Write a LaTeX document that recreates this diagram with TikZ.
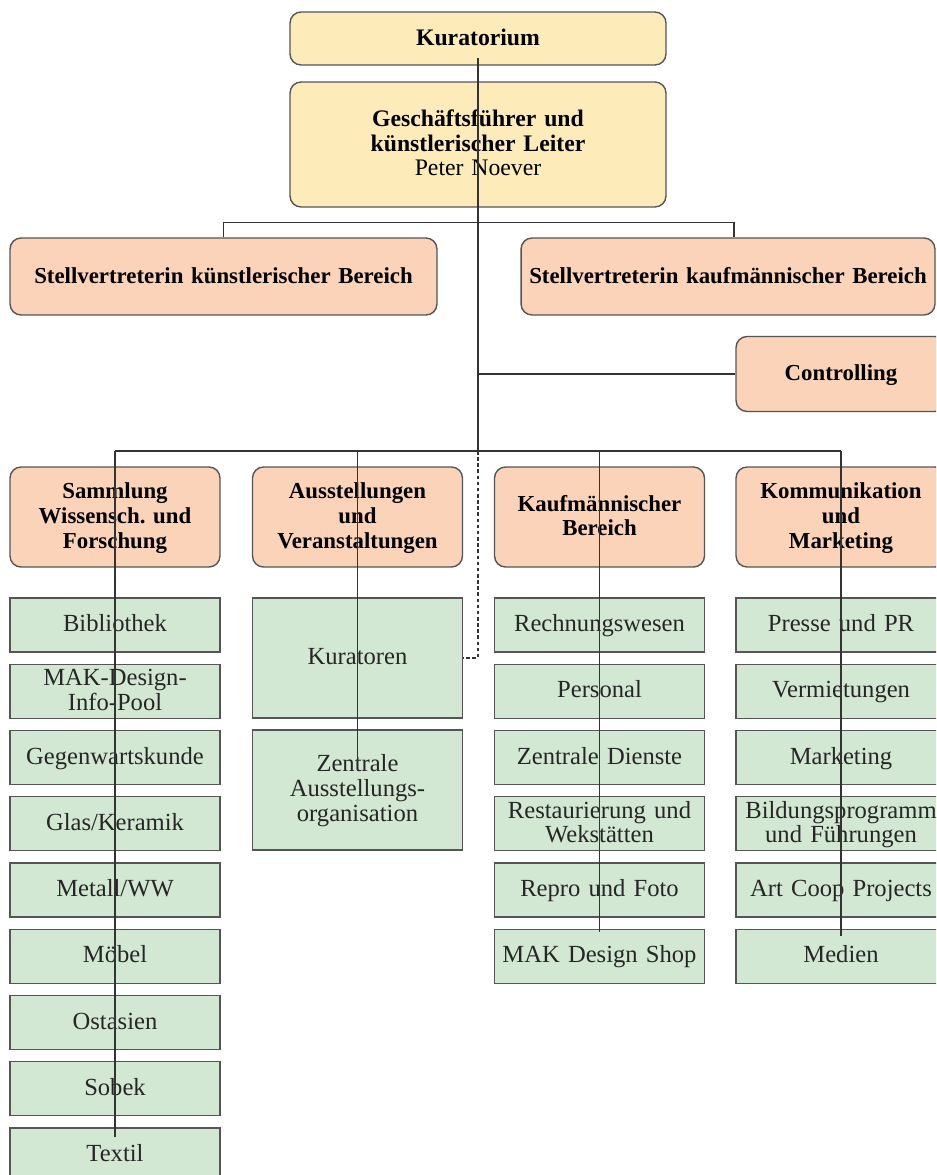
\documentclass[tikz,border=0pt]{standalone}
\usepackage{fontspec}
\setmainfont{Liberation Serif}
\usepackage{tikz}
\usepackage[dvipsnames]{xcolor}
\frenchspacing

\definecolor{boardfill}{HTML}{FDEBB9}
\definecolor{leadfill}{HTML}{FAD3B9}
\definecolor{unitfill}{HTML}{D2E8D3}
\definecolor{edge}{HTML}{555555}
\newcommand\boxstrut{\rule[-3pt]{0pt}{13.5pt}}

\begin{document}
\begin{tikzpicture}[x=0.02cm,y=-0.02cm,
    box/.style={draw=edge,line width=0.8pt,align=center,inner xsep=0pt,inner ysep=0pt,
      execute at begin node=\boxstrut,execute at end node=\boxstrut},
    board/.style={box,rounded corners=0.22cm,fill=boardfill,text width=7.52cm,
      font=\fontsize{13.5}{14}\selectfont},
    lead/.style={box,rounded corners=0.22cm,fill=leadfill,text width=4.2cm,minimum height=2cm,
      font=\bfseries\fontsize{13}{14}\selectfont},
    unit/.style={box,fill=unitfill,text width=4.2cm,minimum height=1.08cm,text=black!85,
      font=\fontsize{14}{14}\selectfont},
    link/.style={draw=black!80,line width=0.6pt}]
    \clip (0,0) rectangle (936,1175);
    \fill[white] (0,0) rectangle (936,1175);

    % top of the house
    \node[board,minimum height=1.06cm] (kur) at (478,38.5) {\textbf{Kuratorium}};
    \node[board,minimum height=2.5cm] (gf) at (478,144.5)
      {\textbf{Geschäftsführer und}\\\textbf{künstlerischer Leiter}\\Peter Noever};
    \node[lead,text width=8.54cm,minimum height=1.54cm] (skb) at (223.5,276.5)
      {Stellvertreterin künstlerischer Bereich};
    \node[lead,text width=8.28cm,minimum height=1.54cm] (skf) at (728,276.5)
      {Stellvertreterin kaufmännischer Bereich};
    \node[lead,minimum height=1.5cm] (ctrl) at (841,374) {Controlling};

    % departments
    \node[lead] (sam) at (115,517) {Sammlung\\Wissensch. und\\Forschung};
    \node[lead] (aus) at (357.5,517) {Ausstellungen\\und\\Veranstaltungen};
    \node[lead] (kfm) at (599.5,517) {Kaufmännischer\\Bereich};
    \node[lead] (kom) at (841,517) {Kommunikation\\und\\Marketing};

    % units
    \foreach \t [count=\i from 0] in {Bibliothek,{MAK-Design-\\Info-Pool},Gegenwartskunde,
        Glas/Keramik,Metall/WW,Möbel,Ostasien,Sobek,Textil}
      \node[unit] (s\i) at (115,{625+66.25*\i}) {\t};
    \node[unit,minimum height=2.4cm] (kurat) at (357.5,658) {Kuratoren};
    \node[unit,minimum height=2.4cm] (zent) at (357.5,790)
      {Zentrale\\Ausstellungs-\\organisation};
    \foreach \t [count=\i from 0] in {Rechnungswesen,Personal,Zentrale Dienste,
        {Restaurierung und\\Wekstätten},Repro und Foto,MAK Design Shop}
      \node[unit] (r\i) at (599.5,{625+66.25*\i}) {\t};
    \foreach \t [count=\i from 0] in {Presse und PR,Vermietungen,Marketing,
        {Bildungsprogramm\\und Führungen},Art Coop Projects,Medien}
      \node[unit] (m\i) at (841,{625+66.25*\i}) {\t};

    % connectors
    \coordinate (bus) at (478,451);
    \draw[link] (kur.south) ++(0,-8) -- (bus);
    \draw[link] (skb.north) -- ++(0,-15) -| ([xshift=0.12cm]skf.north);
    \draw[link] (bus |- ctrl.west) -- (ctrl.west);
    \draw[link] (sam.north |- bus) -- (kom.north |- bus);
    \draw[link] (sam.north |- bus) -- ([yshift=-0.2cm]s8.north);
    \draw[link] (aus.north |- bus) -- ([yshift=-0.64cm]zent.north);
    \draw[link] (kfm.north |- bus) -- ([yshift=-0.06cm]r5.north);
    \draw[link] (kom.north |- bus) -- ([yshift=-0.14cm]m5.north);
    \draw[link,dashed,dash pattern=on 2pt off 1.5pt] (bus) |- (kurat.east);
  \end{tikzpicture}
\end{document}
